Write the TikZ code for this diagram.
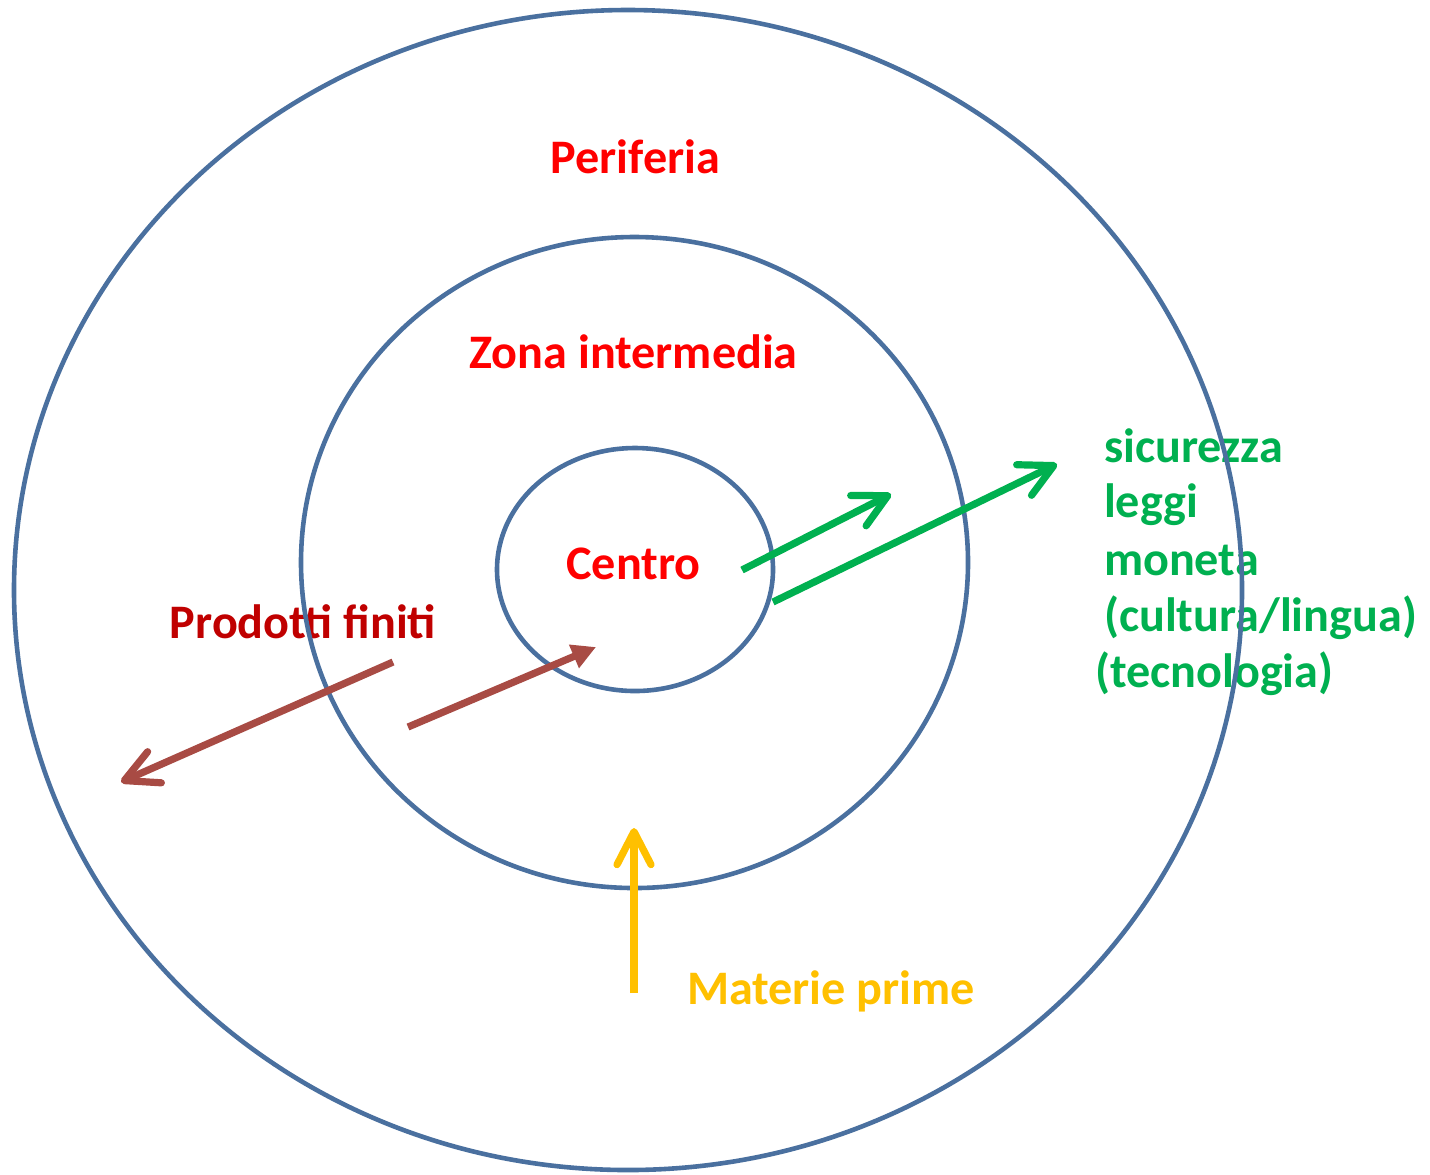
\documentclass[tikz,border=0pt]{standalone}
\usepackage{fontspec}
\setmainfont{Carlito}
\usetikzlibrary{arrows.meta,shapes.geometric}
\definecolor{ringblue}{RGB}{74,112,159}
\definecolor{lblred}{RGB}{255,0,0}
\definecolor{darkred}{RGB}{192,0,0}
\definecolor{arrgreen}{RGB}{0,176,80}
\definecolor{arryellow}{RGB}{255,192,0}
\definecolor{arrbrown}{RGB}{168,75,68}
\tikzset{
  ring/.style={ellipse, draw=ringblue, line width=0.046cm, inner sep=0pt, outer sep=0pt},
  lbl/.style={inner sep=0pt, outer sep=0pt, font=\fontsize{13.7}{16}\selectfont\bfseries},
  barbarrow/.style={line width=0.072cm, -{Straight Barb[length=0.33cm,width=0.34cm,line cap=round,line join=round]}},
  solidarrow/.style={line width=0.072cm, -{Triangle[length=0.24cm,width=0.24cm]}}
}
\begin{document}
\begin{tikzpicture}
\useasboundingbox (0,0) rectangle (14.30,-11.74);
% labels
\node[lbl, text=lblred, anchor=base] (periferia) at (6.355,-1.73) {Periferia};
\node[lbl, text=lblred, anchor=base] (zona) at (6.335,-3.68) {Zona intermedia};
\node[lbl, text=lblred, anchor=base] (centro) at (6.335,-5.79) {Centro};
\node[lbl, text=darkred, anchor=base] (prodotti) at (3.03,-6.38) {Prodotti finiti};
\node[lbl, text=arryellow, anchor=base west] (materie) at (6.87,-10.04) {Materie prime};
\node[lbl, text=arrgreen, anchor=base west] (sic) at (11.04,-4.62) {sicurezza};
\node[lbl, text=arrgreen, anchor=base west] (leg) at (11.04,-5.17) {leggi};
\node[lbl, text=arrgreen, anchor=base west] (mon) at (11.04,-5.75) {moneta};
\node[lbl, text=arrgreen, anchor=base west] (cul) at (11.04,-6.31) {(cultura/lingua)};
\node[lbl, text=arrgreen, anchor=base west] (tec) at (10.95,-6.87) {(tecnologia)};
% rings
\node[ring, minimum width=12.28cm, minimum height=11.60cm] (outer) at (6.28,-5.90) {};
\node[ring, minimum width=6.67cm, minimum height=6.51cm] (middle) at (6.345,-5.625) {};
\node[ring, minimum width=2.76cm, minimum height=2.43cm] (inner) at (6.35,-5.695) {};
% arrow ends
\coordinate (g1s) at (7.42,-5.70);
\coordinate (g1e) at (8.91,-4.94);
\coordinate (g2s) at (7.73,-6.02);
\coordinate (g2e) at (10.57,-4.64);
\coordinate (b1s) at (4.08,-7.27);
\coordinate (b1e) at (5.96,-6.47);
\coordinate (b2s) at (3.93,-6.62);
\coordinate (b2e) at (1.21,-7.82);
\coordinate (ys) at (6.34,-9.93);
\coordinate (ye) at (6.34,-8.28);
% arrows
\draw[barbarrow, draw=arrgreen] (g1s) -- (g1e);
\draw[barbarrow, draw=arrgreen] (g2s) -- (g2e);
\draw[solidarrow, draw=arrbrown, fill=arrbrown] (b1s) -- (b1e);
\draw[barbarrow, draw=arrbrown] (b2s) -- (b2e);
\draw[barbarrow, draw=arryellow] (ys) -- (ye);
\end{tikzpicture}
\end{document}
